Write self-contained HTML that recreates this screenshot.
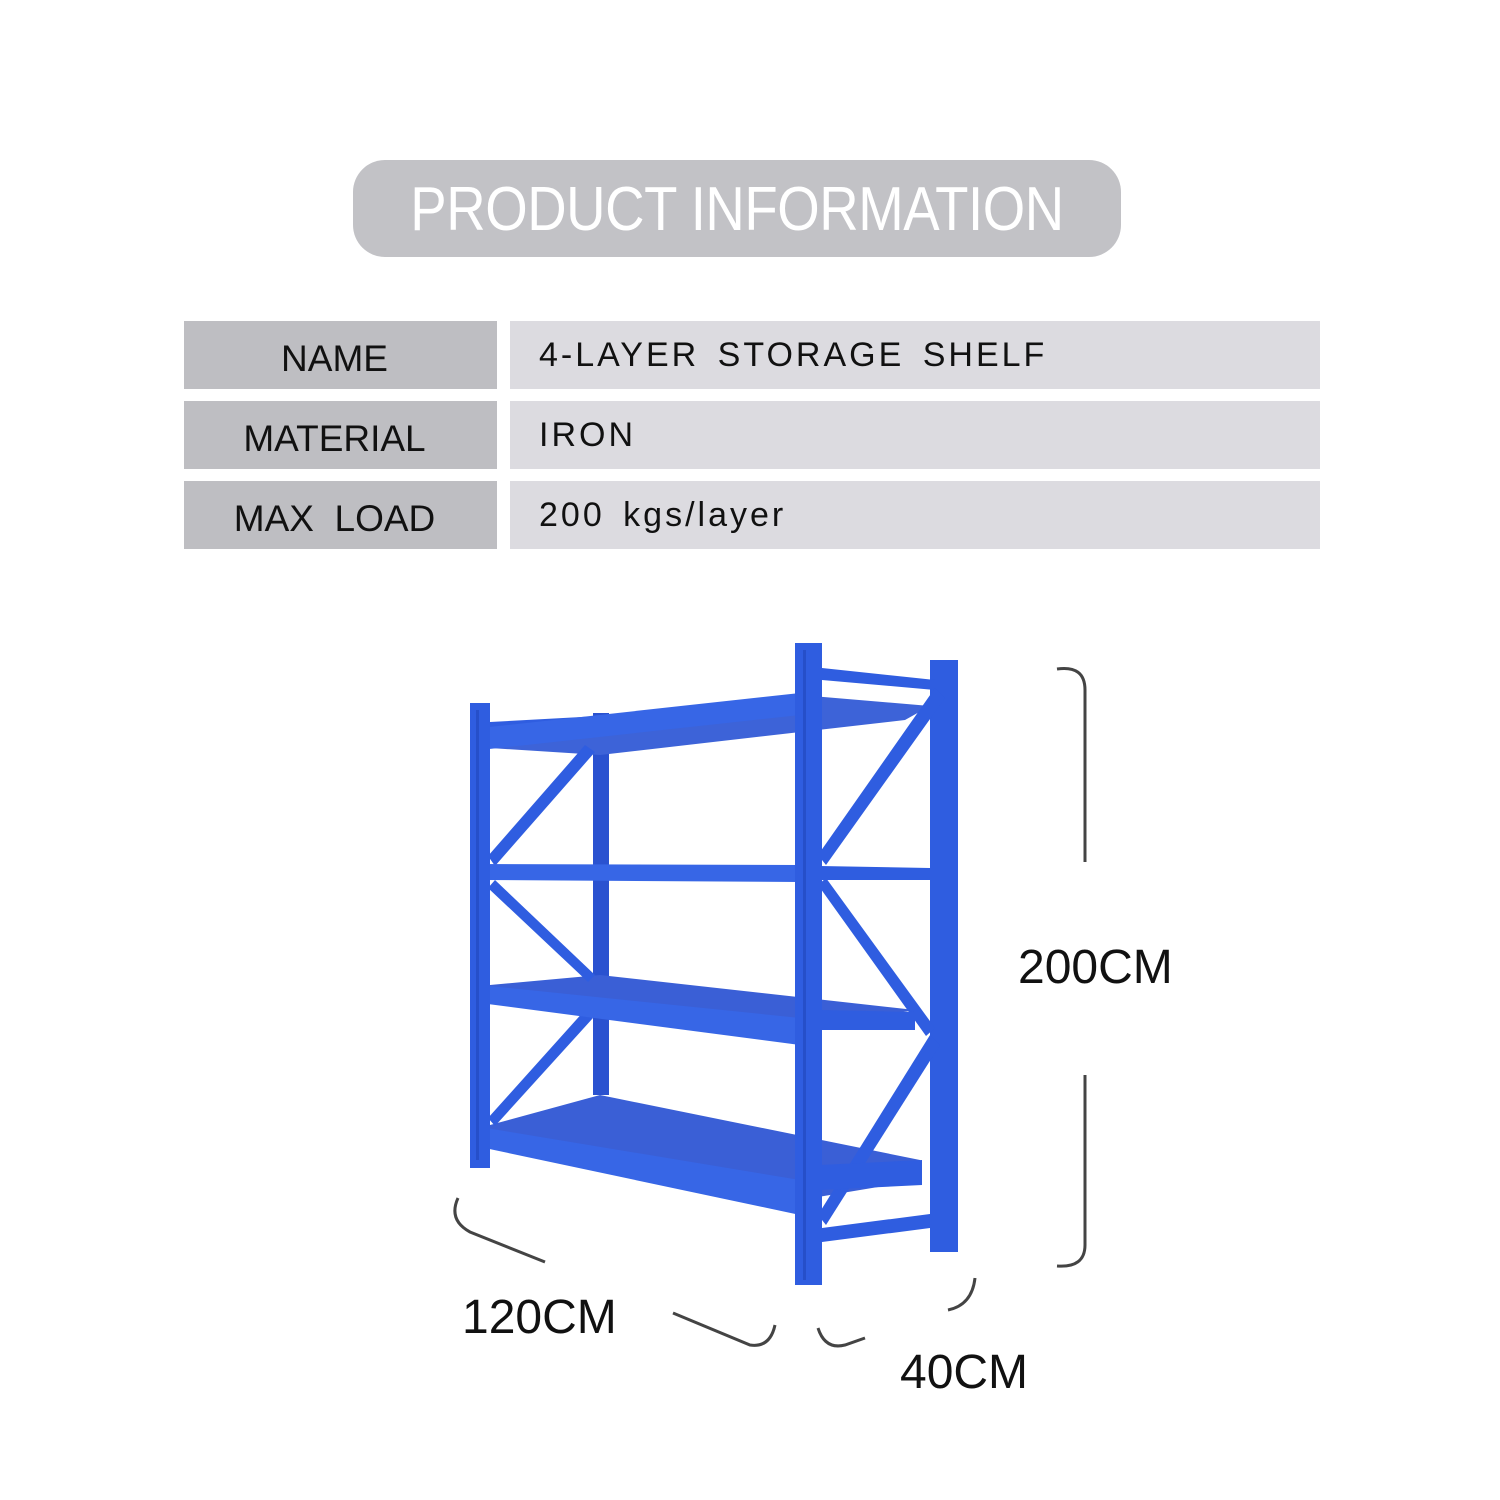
<!DOCTYPE html>
<html><head><meta charset="utf-8"><style>
body{margin:0;background:#fff;width:1500px;height:1500px;position:relative;overflow:hidden;font-family:"Liberation Sans",sans-serif}
.pill{position:absolute;left:353px;top:160px;width:768px;height:97px;background:#c2c2c6;border-radius:32px}
.pill span{position:absolute;left:0;right:0;top:14px;text-align:center;color:#fff;font-size:62px;letter-spacing:-0.5px;transform:scaleX(0.88);}
.c{position:absolute;height:68px;font-size:37px;color:#111;line-height:76px}
.k{left:184px;width:313px;background:#bebec2;text-align:center;padding-right:12px;box-sizing:border-box}
.v{left:510px;width:810px;background:#dcdbe0;padding-left:29px;box-sizing:border-box;font-size:34px;line-height:68px;letter-spacing:3px;word-spacing:6px}
.t{position:absolute;font-size:48px;color:#111}
</style></head><body>
<div class="pill"><span>PRODUCT INFORMATION</span></div>
<div class="c k" style="top:321px">NAME</div><div class="c v" style="top:321px">4-LAYER STORAGE SHELF</div>
<div class="c k" style="top:401px">MATERIAL</div><div class="c v" style="top:401px">IRON</div>
<div class="c k" style="top:481px">MAX&nbsp; LOAD</div><div class="c v" style="top:481px">200 kgs/layer</div>
<svg width="1500" height="1500" style="position:absolute;left:0;top:0">
<g fill="#2f5de0">
<rect x="593" y="713" width="16" height="382" fill="#2a52d0"/>
<rect x="930" y="660" width="28" height="592"/>
<polygon points="490,728 800,695 930,706 905,720 600,755 490,748" fill="#3d63d8"/>
<polygon points="490,985 600,975 915,1010 800,1030 490,1000" fill="#3a5fd6"/>
<polygon points="490,1125 600,1095 920,1160 920,1180 800,1200 490,1145" fill="#3a5fd6"/>
<polygon points="490,722 600,716 600,726 490,732"/>
<polygon points="822,668 935,680 935,690 822,680"/>
<polygon points="488,856 585,745 595,752 495,866"/>
<polygon points="488,888 495,880 595,975 588,982"/>
<polygon points="488,1118 585,1010 593,1018 495,1126"/>
<polygon points="818,855 935,688 945,698 826,865"/>
<polygon points="818,885 826,878 935,1028 926,1036"/>
<polygon points="818,1215 930,1035 940,1045 826,1225"/>
<polygon points="822,1228 930,1214 930,1228 822,1242"/>
<polygon points="480,728 800,693 800,715 480,750" fill="#3766e6"/>
<polygon points="480,864 800,865 800,882 480,880" fill="#3766e6"/>
<polygon points="820,866 930,868 930,880 820,880"/>
<polygon points="480,985 800,1018 800,1045 480,1003" fill="#3766e6"/>
<polygon points="820,1010 915,1012 915,1030 820,1030"/>
<polygon points="480,1127 800,1180 800,1215 480,1147" fill="#3766e6"/>
<polygon points="820,1165 922,1160 922,1185 820,1190"/>
<rect x="470" y="703" width="20" height="465"/>
<rect x="795" y="643" width="27" height="642"/>
</g>
<g fill="#1a3ba8">
<rect x="476" y="710" width="3" height="450" opacity=".4"/>
<rect x="803" y="650" width="3" height="630" opacity=".4"/>
</g>
<g fill="none" stroke="#444" stroke-width="3">
<path d="M1057,669 Q1085,665 1085,690 L1085,862"/>
<path d="M1085,1075 L1085,1245 Q1085,1268 1057,1266"/>
<path d="M458,1198 Q448,1220 470,1232 L545,1262"/>
<path d="M673,1313 L750,1345 Q770,1348 775,1325"/>
<path d="M818,1328 Q825,1350 845,1345 L865,1338"/>
<path d="M948,1310 Q972,1305 975,1278"/>
</g>
</svg>
<div class="t" style="left:1018px;top:940px">200CM</div>
<div class="t" style="left:462px;top:1290px">120CM</div>
<div class="t" style="left:900px;top:1345px">40CM</div>
</body></html>
